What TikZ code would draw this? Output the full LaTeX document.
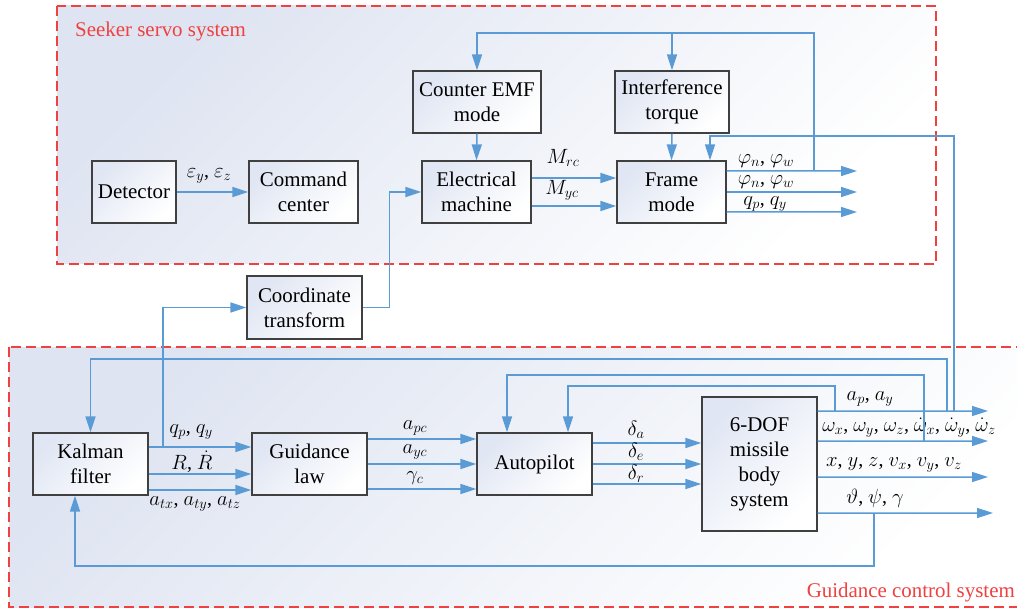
\documentclass[tikz,border=0pt]{standalone}
\usepackage{fontspec}
\setmainfont{Liberation Serif}
\usetikzlibrary{arrows.meta,calc}
\definecolor{lblue}{RGB}{91,155,213}
\definecolor{dred}{RGB}{240,64,64}
\definecolor{shadec}{RGB}{222,228,241}
\definecolor{boxshade}{RGB}{224,230,243}
\tikzset{
  panel/.style={dash pattern=on 10bp off 5bp, draw=dred, line width=1.1bp, top color=shadec, bottom color=white, shading angle=45},
  blk/.style={draw=black!75, line width=1.3bp, top color=boxshade, bottom color=white, shading angle=45, align=center, font=\fontsize{21}{25}\selectfont, inner sep=0pt},
  conn/.style={draw=lblue, line width=1.5bp},
  arr/.style={conn, -{Triangle[length=16bp,width=10bp]}},
  lab/.style={font=\fontsize{20}{22}\selectfont, inner sep=0pt},
  redlab/.style={text=dred, font=\fontsize{21}{24}\selectfont, inner sep=0pt},
}
\begin{document}
\begin{tikzpicture}[x=1bp,y=-1bp]
\useasboundingbox (0,0) rectangle (1017,609);
% panels
\path[panel] (57,6) rectangle (936,264);
\path[panel] (9,347) rectangle (1030,607);
\node[redlab, anchor=west] (seekl) at (75,32) {Seeker servo system};
\node[redlab, anchor=east] (guidl) at (1015,592) {Guidance control system};
% blocks
\node[blk, minimum width=84bp, minimum height=62bp] (det) at (134,192) {Detector};
\node[blk, minimum width=109bp, minimum height=62bp] (cmd) at (303.5,192) {Command\\center};
\node[blk, minimum width=128bp, minimum height=62bp] (cemf) at (477,102) {Counter EMF\\mode};
\node[blk, minimum width=109bp, minimum height=62bp] (elm) at (476.5,192) {Electrical\\machine};
\node[blk, minimum width=114bp, minimum height=62bp] (itq) at (672,102) {Interference\\torque};
\node[blk, minimum width=109bp, minimum height=62bp] (frm) at (671.5,192) {Frame\\mode};
\node[blk, minimum width=115bp, minimum height=63bp] (crd) at (304.5,307.5) {Coordinate\\transform};
\node[blk, minimum width=115bp, minimum height=62bp] (kal) at (90.5,464) {Kalman\\filter};
\node[blk, minimum width=115bp, minimum height=62bp] (gl) at (309.5,464) {Guidance\\law};
\node[blk, minimum width=115bp, minimum height=62bp] (ap) at (534.5,464) {Autopilot};
\node[blk, minimum width=115bp, minimum height=134bp] (dof) at (759.5,464) {6-DOF\\missile\\body\\system};
% helper coordinates
\coordinate (top) at (0,33);
\coordinate (fbtop) at (0,136);
\coordinate (y359) at (0,359);
\coordinate (y375) at (0,375);
\coordinate (y386) at (0,386);
\coordinate (y566) at (0,566);
\coordinate (fo1) at (857,171);
\coordinate (fo2) at (857,192);
\coordinate (fo3) at (857,212);
\coordinate (tl) at (814,171);
\coordinate (o1) at (988,411);
\coordinate (o2) at (988,441);
\coordinate (o3) at (988,477);
\coordinate (o4) at (993,513);
\coordinate (rv) at (954,411);
\coordinate (kv) at (947,411);
\coordinate (f1) at (835,411);
\coordinate (f2) at (924,441);
\coordinate (th) at (874,513);
\coordinate (kq) at (163,447);
% seeker connectors
\draw[arr] (det.east) -- (cmd.west);
\node[lab] (eps) at (209,176) {$\varepsilon_y$, $\varepsilon_z$};
\draw[arr] (cemf.south) -- (elm.north);
\draw[arr] (itq.south) -- (frm.north);
\draw[arr] ([yshift=14bp]elm.east) -- ([yshift=14bp]frm.west);
\draw[arr] ([yshift=-14bp]elm.east) -- ([yshift=-14bp]frm.west);
\node[lab] (mrc) at (563,158) {$M_{rc}$};
\node[lab] (myc) at (562,190) {$M_{yc}$};
\draw[arr] ([yshift=21bp]frm.east) -- (fo1);
\draw[arr] (frm.east) -- (fo2);
\draw[arr] ([yshift=-20bp]frm.east) -- (fo3);
\node[lab] (phi1) at (766,161) {$\varphi_n$, $\varphi_w$};
\node[lab] (phi2) at (766,182) {$\varphi_n$, $\varphi_w$};
\node[lab] (qq1) at (765,204) {$q_p$, $q_y$};
\draw[arr] (tl) -- (tl |- top) -| (cemf.north);
\draw[arr] (itq.north |- top) -- (itq.north);
\draw[arr] (rv) -- (rv |- fbtop) -| ([xshift=38.5bp]frm.north);
% coordinate transform
\draw[arr] (kq) |- (crd.west);
\draw[arr] (crd.east) -- ++(27,0) |- (elm.west);
% guidance connectors
\draw[arr] ([yshift=17bp]kal.east) -- ([yshift=17bp]gl.west);
\draw[arr] ([yshift=-10bp]kal.east) -- ([yshift=-10bp]gl.west);
\draw[arr] ([yshift=-26bp]kal.east) -- ([yshift=-26bp]gl.west);
\node[lab] (qq2) at (191,432) {$q_p$, $q_y$};
\node[lab] (rr) at (192,462) {$R$, $\dot{R}$};
\node[lab] (atx) at (195,504) {$a_{tx}$, $a_{ty}$, $a_{tz}$};
\draw[arr] ([yshift=25bp]gl.east) -- ([yshift=25bp]ap.west);
\draw[arr] (gl.east) -- (ap.west);
\draw[arr] ([yshift=-25bp]gl.east) -- ([yshift=-25bp]ap.west);
\node[lab] (apc) at (415,428) {$a_{pc}$};
\node[lab] (ayc) at (415,452) {$a_{yc}$};
\node[lab] (gc) at (415,478) {$\gamma_c$};
\draw[arr] ([yshift=21bp]ap.east) -- ([yshift=21bp]dof.west);
\draw[arr] (ap.east) -- (dof.west);
\draw[arr] ([yshift=-20bp]ap.east) -- ([yshift=-20bp]dof.west);
\node[lab] (da) at (636,430) {$\delta_a$};
\node[lab] (de) at (636,452) {$\delta_e$};
\node[lab] (dr) at (636,474) {$\delta_r$};
\draw[arr] ([yshift=53bp]dof.east) -- (o1);
\draw[arr] ([yshift=23bp]dof.east) -- (o2);
\draw[arr] ([yshift=-13bp]dof.east) -- (o3);
\draw[arr] ([yshift=-49bp]dof.east) -- (o4);
\node[lab] (apay) at (870,399) {$a_p$, $a_y$};
\node[lab] (om) at (909,428) {$\omega_x$, $\omega_y$, $\omega_z$, $\dot{\omega}_x$, $\dot{\omega}_y$, $\dot{\omega}_z$};
\node[lab] (xyz) at (894,465) {$x$, $y$, $z$, $v_x$, $v_y$, $v_z$};
\node[lab] (tpg) at (875,498) {$\vartheta$, $\psi$, $\gamma$};
% feedback loops
\draw[arr] (f1) -- (f1 |- y386) -| ([xshift=33.5bp]ap.north);
\draw[arr] (f2) -- (f2 |- y375) -| ([xshift=-27.5bp]ap.north);
\draw[arr] (kv) -- (kv |- y359) -| (kal.north);
\draw[arr] (th) -- (th |- y566) -| ([xshift=-15.5bp]kal.south);
\end{tikzpicture}
\end{document}
